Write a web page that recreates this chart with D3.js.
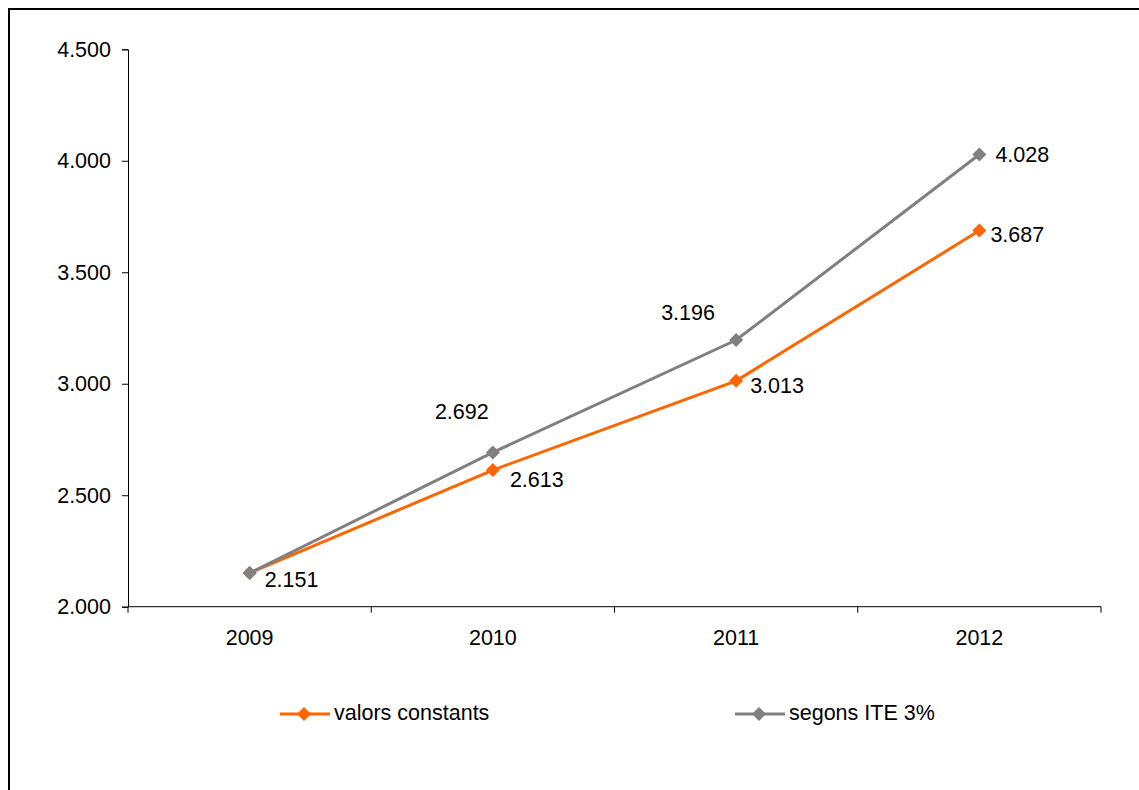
<!DOCTYPE html>
<html>
<head>
<meta charset="utf-8">
<script src="https://cdn.jsdelivr.net/npm/d3@7"></script>
<style>
  html, body { margin: 0; padding: 0; background: #fff; }
  svg { display: block; }
  text { font-family: "Liberation Sans", Arial, sans-serif; fill: #000; }
</style>
</head>
<body>
<svg id="chart" width="1139" height="790"></svg>
<script>
const years = ["2009", "2010", "2011", "2012"];
const valorsConstants = [2151, 2613, 3013, 3687];
const segonsITE = [2151, 2692, 3196, 4028];
const seriesNames = ["valors constants", "segons ITE 3%"];
const yTicks = [2000, 2500, 3000, 3500, 4000, 4500];

const colors = ["#FF6600", "#808080"];
const fontSize = 21.5;

const svg = d3.select("#chart");
const plot = { left: 128, right: 1101, top: 49.3, bottom: 606.7 };

// outer frame (extends beyond the visible area on right & bottom)
svg.append("rect")
  .attr("x", 9).attr("y", 9)
  .attr("width", 1300).attr("height", 1000)
  .attr("fill", "none").attr("stroke", "#000").attr("stroke-width", 2);

const x = d3.scaleBand().domain(years).range([plot.left, plot.right]).padding(0);
const y = d3.scaleLinear().domain([2000, 4500]).range([plot.bottom, plot.top]);

const fmt = d3.formatLocale({ decimal: ",", thousands: ".", grouping: [3], currency: ["", ""] }).format(",d");

// Y axis
const yAxis = d3.axisLeft(y).tickValues(yTicks).tickSize(6).tickPadding(11).tickFormat(fmt);
const gy = svg.append("g").attr("transform", `translate(${plot.left},0)`).call(yAxis);
gy.select(".domain").attr("stroke", "#000").attr("stroke-width", 1);
gy.selectAll(".tick line").attr("stroke", "#000");
gy.selectAll(".tick text").style("font-size", fontSize + "px").attr("fill", "#000")
  .attr("font-family", "Liberation Sans, Arial, sans-serif");

// X axis (labels centered, ticks at band boundaries)
const xAxis = d3.axisBottom(x).tickSize(0).tickPadding(23);
const gx = svg.append("g").attr("transform", `translate(0,${plot.bottom})`).call(xAxis);
gx.select(".domain").remove();
gx.selectAll(".tick text").style("font-size", fontSize + "px").attr("fill", "#000")
  .attr("font-family", "Liberation Sans, Arial, sans-serif");
svg.append("line")
  .attr("x1", plot.left).attr("x2", plot.right)
  .attr("y1", plot.bottom).attr("y2", plot.bottom)
  .attr("stroke", "#000").attr("stroke-width", 1);
const boundaries = years.map(d => x(d)).concat([x(years[years.length - 1]) + x.bandwidth()]);
svg.selectAll(".xtick").data(boundaries).enter().append("line")
  .attr("class", "xtick")
  .attr("x1", d => d).attr("x2", d => d)
  .attr("y1", plot.bottom).attr("y2", plot.bottom + 6)
  .attr("stroke", "#000").attr("stroke-width", 1);

const cx = d => x(d) + x.bandwidth() / 2;
const line = d3.line().x(d => cx(d.year)).y(d => y(d.value));
const diamond = d3.symbol().type(d3.symbolDiamond2).size(125);

const series = [
  { name: seriesNames[0], values: valorsConstants, color: colors[0] },
  { name: seriesNames[1], values: segonsITE, color: colors[1] }
];

series.forEach(s => {
  const pts = years.map((yr, i) => ({ year: yr, value: s.values[i] }));
  svg.append("path").datum(pts)
    .attr("d", line).attr("fill", "none")
    .attr("stroke", s.color).attr("stroke-width", 3);
  svg.selectAll(null).data(pts).enter().append("path")
    .attr("d", diamond)
    .attr("transform", d => `translate(${cx(d.year)},${y(d.value)})`)
    .attr("fill", s.color);
});

// data labels: offsets (dx from marker to label left edge, dy to label middle)
const labelOffsets = [
  [[15, 7], [17, 10], [14, 5], [11, 4]],          // valors constants
  [null, [-58, -40], [-75, -27], [16, 0]]        // segons ITE 3%
];
series.forEach((s, si) => {
  years.forEach((yr, i) => {
    const off = labelOffsets[si][i];
    if (!off) return;
    svg.append("text")
      .attr("x", cx(yr) + off[0])
      .attr("y", y(s.values[i]) + off[1])
      .attr("dominant-baseline", "central")
      .style("font-size", fontSize + "px")
      .text(fmt(s.values[i]));
  });
});

// legend
const legendY = 714;
const legendItems = [
  { x0: 280, color: colors[0], name: seriesNames[0] },
  { x0: 735, color: colors[1], name: seriesNames[1] }
];
legendItems.forEach(li => {
  svg.append("line")
    .attr("x1", li.x0).attr("x2", li.x0 + 50)
    .attr("y1", legendY).attr("y2", legendY)
    .attr("stroke", li.color).attr("stroke-width", 3);
  svg.append("path").attr("d", diamond)
    .attr("transform", `translate(${li.x0 + 24},${legendY})`)
    .attr("fill", li.color);
  svg.append("text")
    .attr("x", li.x0 + 54).attr("y", legendY - 1)
    .attr("dominant-baseline", "central")
    .style("font-size", fontSize + "px")
    .text(li.name);
});
</script>
</body>
</html>
